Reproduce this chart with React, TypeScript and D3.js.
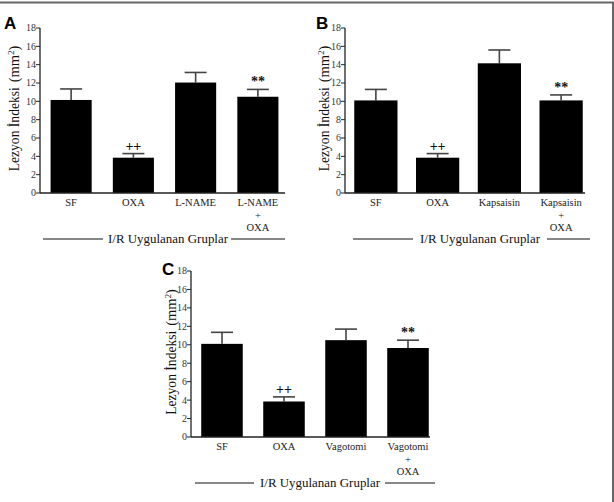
import React from "react";
import * as d3 from "d3";

// Group labels (lines separated by "\n")
const categoriesA = ["SF", "OXA", "L-NAME", "L-NAME\n+\nOXA"];
const categoriesB = ["SF", "OXA", "Kapsaisin", "Kapsaisin\n+\nOXA"];
const categoriesC = ["SF", "OXA", "Vagotomi", "Vagotomi\n+\nOXA"];

// Mean lesion index (mm²)
const meansA = [10.15, 3.85, 12.05, 10.5];
const meansB = [10.1, 3.85, 14.15, 10.1];
const meansC = [10.1, 3.85, 10.5, 9.65];

// Standard error of the mean
const semA = [1.2, 0.45, 1.1, 0.8];
const semB = [1.2, 0.45, 1.45, 0.6];
const semC = [1.25, 0.5, 1.2, 0.85];

// Significance marks above bars
const marks = ["", "++", "", "**"];

const yTicks = [0, 2, 4, 6, 8, 10, 12, 14, 16, 18];
const groupTitle = "I/R Uygulanan Gruplar";
const yTitle = "Lezyon İndeksi";

const serif = "'Liberation Serif', 'Times New Roman', serif";
const sans = "'Liberation Sans', Arial, sans-serif";

type PanelProps = {
  letter: string;
  categories: string[];
  means: number[];
  sem: number[];
  axisX: number;
  bandEnd: number;
  axisEnd: number;
  yTop: number;
  yBottom: number;
  padInner: number;
  letterX: number;
  letterY: number;
  titleX: number;
  yTitleOffset: number;
  lineL: [number, number];
  lineR: [number, number];
};

function Panel(p: PanelProps) {
  const x = d3
    .scaleBand<string>()
    .domain(p.categories)
    .range([p.axisX, p.bandEnd])
    .paddingInner(p.padInner)
    .paddingOuter(p.padInner / 2);
  const y = d3.scaleLinear().domain([0, 18]).range([p.yBottom, p.yTop]);
  const bw = x.bandwidth();
  const capHalf = 11;
  const catY = p.yBottom + 13;
  const titleY = p.yBottom + 50;
  const yMid = (p.yTop + p.yBottom) / 2 - 2;

  return (
    <g>
      <text x={p.letterX} y={p.letterY} fontFamily={sans} fontWeight="bold" fontSize={17} fill="#000">
        {p.letter}
      </text>
      {/* bars */}
      {p.categories.map((c, i) => {
        const cx = (x(c) as number) + bw / 2;
        const top = y(p.means[i]);
        const err = y(p.means[i] + p.sem[i]);
        return (
          <g key={c}>
            <line x1={cx} x2={cx} y1={top} y2={err} stroke="#444" strokeWidth={1.6} />
            <line x1={cx - capHalf} x2={cx + capHalf} y1={err} y2={err} stroke="#444" strokeWidth={1.6} />
            <rect x={x(c)} y={top} width={bw} height={p.yBottom - top} fill="#000" />
            {marks[i] && (
              <text x={cx} y={err - 3} textAnchor="middle" fontFamily={serif} fontSize={14} fontWeight="bold" fill="#111">
                {marks[i]}
              </text>
            )}
            {c.split("\n").map((ln, k) => (
              <text
                key={k}
                x={cx}
                y={catY + k * 12.5}
                textAnchor="middle"
                fontFamily={serif}
                fontSize={10.5}
                fill="#222"
              >
                {ln}
              </text>
            ))}
          </g>
        );
      })}
      {/* y axis */}
      <line x1={p.axisX} x2={p.axisX} y1={p.yTop} y2={p.yBottom} stroke="#222" strokeWidth={1.3} />
      {yTicks.map((t) => (
        <g key={t}>
          <line x1={p.axisX - 4} x2={p.axisX} y1={y(t)} y2={y(t)} stroke="#222" strokeWidth={1} />
          <text x={p.axisX - 4} y={y(t) + 3.4} textAnchor="end" fontFamily={serif} fontSize={10} fill="#333">
            {t}
          </text>
        </g>
      ))}
      {/* x axis */}
      <line x1={p.axisX} x2={p.axisEnd} y1={p.yBottom} y2={p.yBottom} stroke="#222" strokeWidth={1.3} />
      {/* y title */}
      <text
        transform={`translate(${p.axisX - p.yTitleOffset},${yMid}) rotate(-90)`}
        textAnchor="middle"
        fontFamily={serif}
        fontSize={14.5}
        fill="#111"
      >
        <tspan textLength={84} lengthAdjust="spacingAndGlyphs">{yTitle}</tspan>
        <tspan dx={5}>(mm</tspan>
        <tspan dy={-5} fontSize={8.5}>2</tspan>
        <tspan dy={5}>)</tspan>
      </text>
      {/* group title with rules */}
      <line x1={p.lineL[0]} x2={p.lineL[1]} y1={titleY - 4} y2={titleY - 4} stroke="#111" strokeWidth={1.1} />
      <line x1={p.lineR[0]} x2={p.lineR[1]} y1={titleY - 4} y2={titleY - 4} stroke="#111" strokeWidth={1.1} />
      <text
        x={p.titleX}
        y={titleY}
        textAnchor="middle"
        fontFamily={serif}
        fontSize={13.5}
        textLength={120}
        lengthAdjust="spacingAndGlyphs"
        fill="#111"
      >
        {groupTitle}
      </text>
    </g>
  );
}

export default function App() {
  return (
    <svg
      width={614}
      height={502}
      style={{ position: "absolute", left: 0, top: 0, background: "#fff" }}
    >
      <rect x={0} y={0} width={614} height={502} fill="#fff" />
      <line x1={0} x2={614} y1={2.5} y2={2.5} stroke="#666" strokeWidth={2} />
      <line x1={613} x2={613} y1={2} y2={502} stroke="#666" strokeWidth={2} />
      <Panel
        letter="A"
        categories={categoriesA}
        means={meansA}
        sem={semA}
        axisX={40}
        bandEnd={289}
        axisEnd={285}
        yTop={28}
        yBottom={193}
        padInner={0.34}
        letterX={4}
        letterY={29}
        titleX={168}
        yTitleOffset={21}
        lineL={[43, 103]}
        lineR={[231, 285]}
      />
      <Panel
        letter="B"
        categories={categoriesB}
        means={meansB}
        sem={semB}
        axisX={345}
        bandEnd={592}
        axisEnd={585}
        yTop={28}
        yBottom={193}
        padInner={0.3}
        letterX={316}
        letterY={29}
        titleX={480}
        yTitleOffset={16}
        lineL={[353, 413]}
        lineR={[547, 590]}
      />
      <Panel
        letter="C"
        categories={categoriesC}
        means={meansC}
        sem={semC}
        axisX={191}
        bandEnd={439}
        axisEnd={430}
        yTop={271}
        yBottom={437}
        padInner={0.33}
        letterX={162}
        letterY={275}
        titleX={320}
        yTitleOffset={15}
        lineL={[195, 254]}
        lineR={[385, 435]}
      />
    </svg>
  );
}
